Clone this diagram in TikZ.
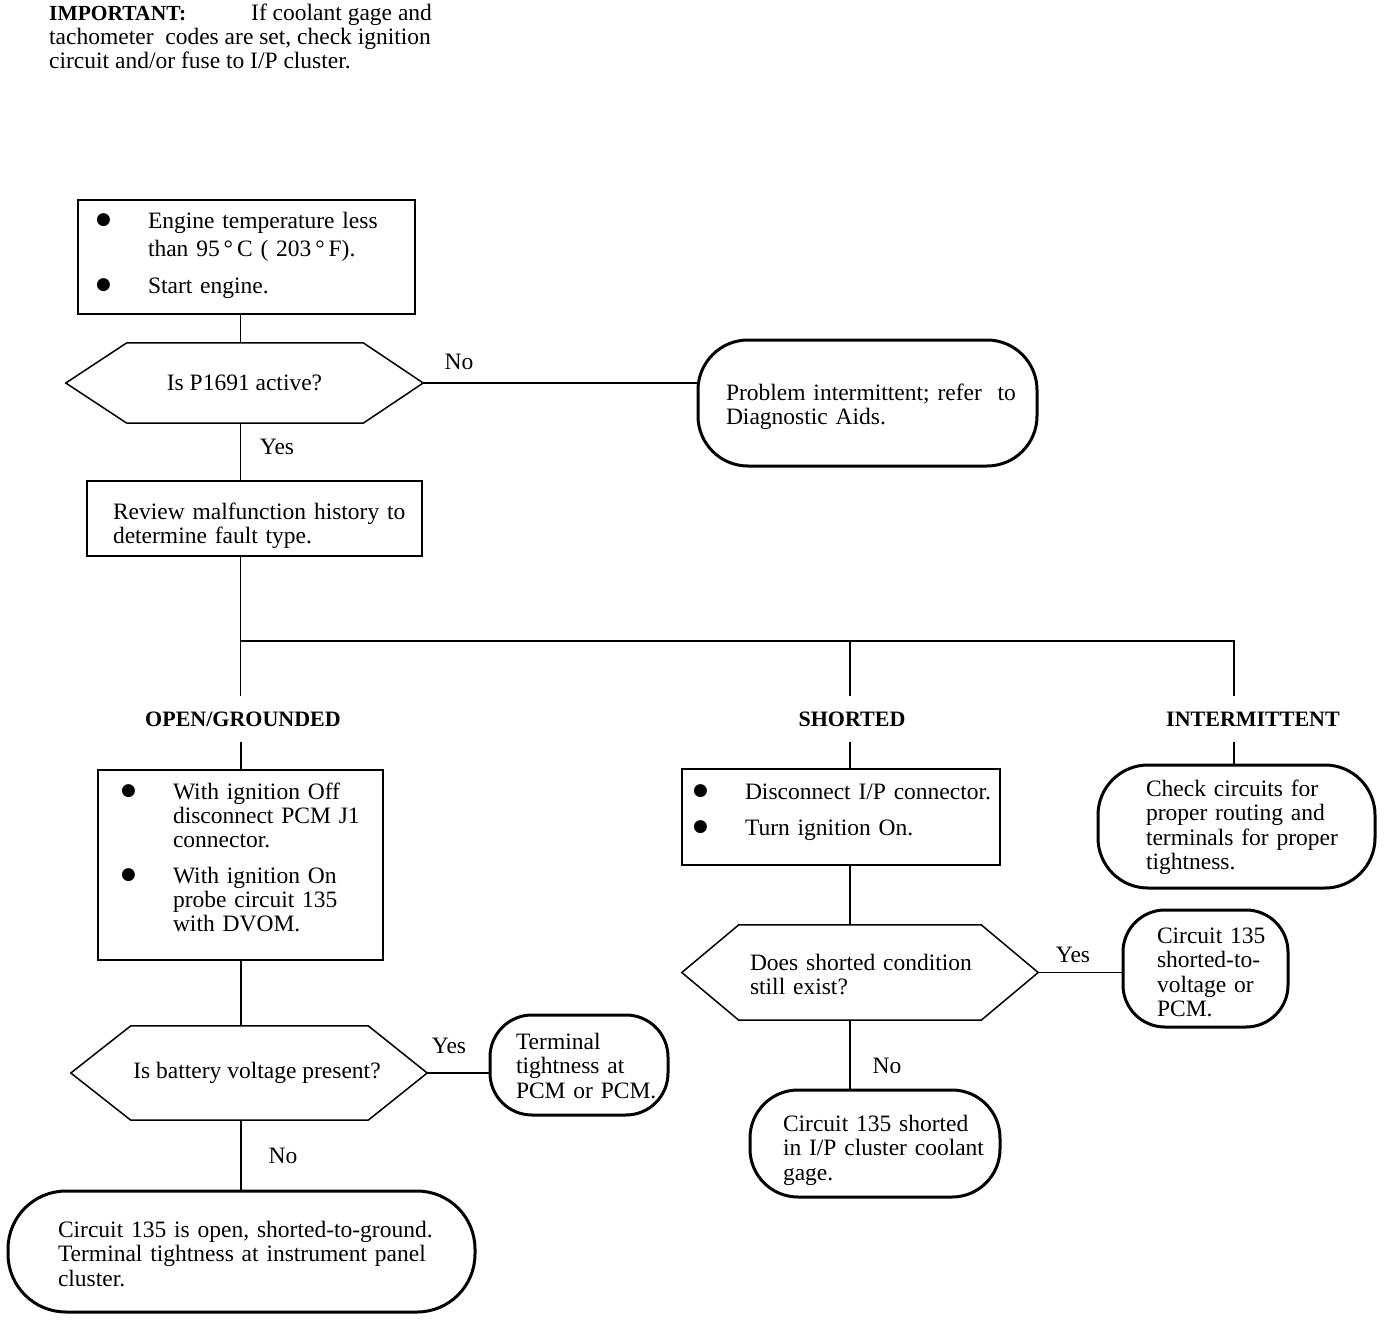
\documentclass[tikz,border=0pt]{standalone}
\usepackage{fontspec}
\setmainfont{Liberation Serif}
\newfontfamily\dejavu{DejaVu Sans}
\newcommand{\bul}{\makebox[50pt][l]{\hspace*{-2pt}\smash{\raisebox{4pt}{\dejavu\fontsize{17}{17}\selectfont ●}}}}
\newcommand{\bulin}{\hspace*{50pt}}
\newcommand{\tb}[1]{\rule{0pt}{#1pt}}
\newcommand{\bb}[1]{\rule[-#1pt]{0pt}{#1pt}}
\tikzset{
  base/.style={font=\fontsize{23.5}{24.5}\selectfont, inner sep=0pt},
  boxn/.style={base, draw, line width=1.5pt, align=left},
  term/.style={base, draw, line width=3pt, align=left, rounded corners=#1},
  term/.default=45pt,
  decn/.style={base, align=left},
  hexline/.style={line width=1.5pt, line join=miter},
  conn/.style={line width=1.5pt},
  lbl/.style={base},
  head/.style={inner sep=0pt, font=\fontsize{22}{24}\selectfont\bfseries, minimum height=46pt},
}
\begin{document}
\begin{tikzpicture}[x=1pt,y=-1pt]
\useasboundingbox[fill=white] (0,0) rectangle (1392,1322);

% note
\node[base, anchor=north west, align=left, font=\fontsize{23.5}{24}\selectfont] (imp) at (49,4)
  {\makebox[202pt][l]{\fontsize{21.5}{24}\selectfont\bfseries IMPORTANT:}If coolant gage and\\
   tachometer\ \ codes are set, check ignition\\
   circuit and/or fuse to I/P cluster.};

% top part
\node[boxn, minimum width=337pt, minimum height=114pt, text width=297pt] (b1) at (246.5,257)
  {\mbox{\tb{17.6}\bul Engine temperature less}\\[3.5pt]
   \mbox{\bulin than 95\,°\,C ( 203\,°\,F).}\\[12.5pt]
   \mbox{\bul Start engine.\bb{10}}};

\node[decn, minimum width=357pt, minimum height=80pt] (d1) at (244.5,383) {Is P1691 active?};
\draw[hexline] (d1.west) -- ([xshift=61pt]d1.north west) -- ([xshift=-60pt]d1.north east) -- (d1.east)
  -- ([xshift=-60pt]d1.south east) -- ([xshift=61pt]d1.south west) -- cycle;

\node[term=50pt, minimum width=339pt, minimum height=126pt, text width=283pt] (t1) at (867.5,403)
  {\mbox{\tb{26.1}Problem intermittent; refer\ \ to}\\\mbox{Diagnostic Aids.\bb{7}}};

\node[boxn, minimum width=335pt, minimum height=75pt, text width=283pt] (b2) at (254.5,518.5)
  {\mbox{\tb{32.1}Review malfunction history to}\\\mbox{determine fault type.\bb{6}}};

% headings
\node[head] (h1) at (243,719) {OPEN/GROUNDED};
\node[head] (h2) at (852,719) {SHORTED};
\node[head] (h3) at (1253,719) {INTERMITTENT};

% left branch
\node[boxn, minimum width=285pt, minimum height=190pt, text width=235pt] (b3) at (240.5,865)
  {\mbox{\tb{20}\bul With ignition Off}\\[-0.5pt]
   \mbox{\bulin disconnect PCM J1}\\[-0.5pt]
   \mbox{\bulin connector.}\\[11.5pt]
   \mbox{\bul With ignition On}\\[-0.5pt]
   \mbox{\bulin probe circuit 135}\\[-0.5pt]
   \mbox{\bulin with DVOM.\bb{19.4}}};

\node[decn, minimum width=356pt, minimum height=94pt] (d2) at (249,1073) {\hspace*{16pt}Is battery voltage present?};
\draw[hexline] (d2.west) -- ([xshift=60pt]d2.north west) -- ([xshift=-59pt]d2.north east) -- (d2.east)
  -- ([xshift=-59pt]d2.south east) -- ([xshift=60pt]d2.south west) -- cycle;

\node[term=42pt, minimum width=178pt, minimum height=100pt, text width=126pt] (t2) at (579,1065)
  {\mbox{\tb{24.6}Terminal}\\\mbox{tightness at}\\\mbox{PCM or PCM.\bb{7}}};

\node[term=58pt, minimum width=467pt, minimum height=121pt, text width=367pt] (t3) at (241.5,1251.5)
  {\mbox{\tb{27.6}Circuit 135 is open, shorted-to-ground.}\\
   \mbox{Terminal tightness at instrument panel}\\
   \mbox{cluster.\bb{7}}};

% middle branch
\node[boxn, minimum width=318pt, minimum height=96pt, text width=292pt] (b4) at (841,817)
  {\mbox{\tb{20}\bul Disconnect I/P connector.}\\[11.5pt]
   \mbox{\bul Turn ignition On.\bb{19.4}}};

\node[decn, minimum width=356pt, minimum height=95pt, text width=220pt] (d3) at (860,972.5)
  {\mbox{\tb{27.1}Does shorted condition}\\\mbox{still exist?\bb{7}}};
\draw[hexline] (d3.west) -- ([xshift=57pt]d3.north west) -- ([xshift=-57pt]d3.north east) -- (d3.east)
  -- ([xshift=-57pt]d3.south east) -- ([xshift=57pt]d3.south west) -- cycle;

\node[term=42pt, minimum width=165pt, minimum height=117pt, text width=97pt] (t4) at (1205.5,968.5)
  {\mbox{\tb{30.1}Circuit 135}\\\mbox{shorted-to-}\\\mbox{voltage or}\\\mbox{PCM.\bb{7}}};

\node[term=48pt, minimum width=250pt, minimum height=107pt, text width=184pt] (t5) at (875,1143.5)
  {\mbox{\tb{31.6}Circuit 135 shorted}\\\mbox{in I/P cluster coolant}\\\mbox{gage.\bb{7}}};

% right branch
\node[term=50pt, minimum width=277pt, minimum height=123pt, text width=181pt] (t6) at (1236.5,826.5)
  {\mbox{\tb{20.1}Check circuits for}\\\mbox{proper routing and}\\\mbox{terminals for proper}\\\mbox{tightness.\bb{7}}};

% branch labels
\node[lbl] (no1) at (459,362) {No};
\node[lbl] (yes1) at (277,447) {Yes};
\node[lbl] (yes2) at (449,1046) {Yes};
\node[lbl] (no2) at (283,1156) {No};
\node[lbl] (yes3) at (1073,955) {Yes};
\node[lbl] (no3) at (887,1066) {No};

% connectors
\coordinate (tk) at (240.5,0);
\coordinate (lk) at (241,0);
\coordinate (mk) at (850,0);
\coordinate (rk) at (1234,0);
\coordinate (bus) at (240.5,641);

\draw[conn] (b1.south -| tk) -- (d1.north -| tk);
\draw[conn] (d1.east) -- (d1.east -| t1.west);
\draw[conn] (d1.south -| tk) -- (b2.north -| tk);
\draw[conn] (b2.south -| tk) -- (h1.north -| tk);
\draw[conn] (bus) -- (bus -| rk) -- (h3.north -| rk);
\draw[conn] (bus -| mk) -- (h2.north -| mk);
\draw[conn] (h1.south -| lk) -- (b3.north -| lk);
\draw[conn] (h2.south -| mk) -- (b4.north -| mk);
\draw[conn] (h3.south -| rk) -- (t6.north -| rk);
\draw[conn] (b3.south -| lk) -- (d2.north -| lk);
\draw[conn] (d2.east) -- (d2.east -| t2.west);
\draw[conn] (d2.south -| lk) -- (t3.north -| lk);
\draw[conn] (b4.south -| mk) -- (d3.north -| mk);
\draw[conn] (d3.east) -- (d3.east -| t4.west);
\draw[conn] (d3.south -| mk) -- (t5.north -| mk);
\end{tikzpicture}
\end{document}
